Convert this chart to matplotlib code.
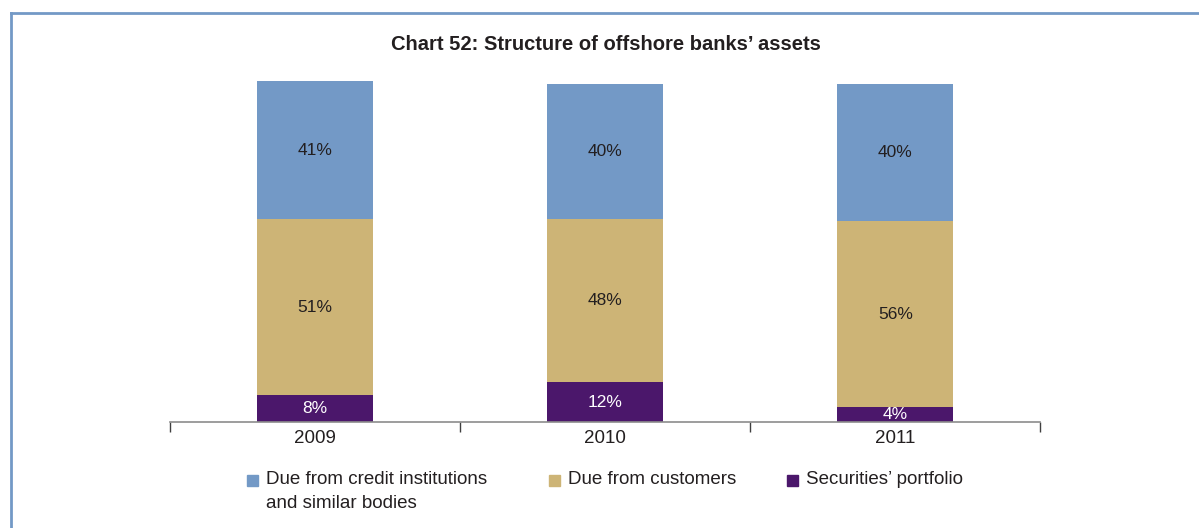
import matplotlib
matplotlib.use("Agg")
import matplotlib.pyplot as plt
from matplotlib.lines import Line2D
from matplotlib.patches import Rectangle
import numpy as np

# ── data ────────────────────────────────────────────────────────────────────
years = ["2009", "2010", "2011"]
series_names = [
    "Due from credit institutions\nand similar bodies",
    "Due from customers",
    "Securities\u2019 portfolio",
]
securities = [7.8, 11.6, 4.3]
customers = [51.7, 48.0, 54.6]
credit_inst = [40.5, 39.7, 40.3]
securities_lbl = ["8%", "12%", "4%"]
customers_lbl = ["51%", "48%", "56%"]
credit_lbl = ["41%", "40%", "40%"]

BLUE = "#7399c6"
TAN = "#cdb476"
PURPLE = "#4b176b"
TEXT = "#231f20"

plt.rcParams["font.family"] = ["Liberation Sans", "DejaVu Sans"]

fig = plt.figure(figsize=(11.99, 5.28), dpi=100)
ax = fig.add_axes([0.1414, 0.2008, 0.7264, 0.6452])

x = np.arange(len(years))
w = 0.4
b1 = ax.bar(x, securities, w, color=PURPLE)
b2 = ax.bar(x, customers, w, bottom=securities, color=TAN)
bottom3 = np.array(securities) + np.array(customers)
b3 = ax.bar(x, credit_inst, w, bottom=bottom3, color=BLUE)

for bars, lbls, col in [(b1, securities_lbl, "white"),
                        (b2, customers_lbl, TEXT),
                        (b3, credit_lbl, TEXT)]:
    for bar, lbl in zip(bars, lbls):
        ax.text(bar.get_x() + bar.get_width() / 2,
                bar.get_y() + bar.get_height() / 2, lbl,
                ha="center", va="center", fontsize=12.5, color=col)

ax.set_xlim(-0.5, 2.5)
ax.set_ylim(0, 100)
ax.set_yticks([])
for s in ["top", "right", "left"]:
    ax.spines[s].set_visible(False)
ax.spines["bottom"].set_color("#8c8c8c")
ax.spines["bottom"].set_linewidth(1.2)
ax.set_xticks([-0.5, 0.5, 1.5, 2.5])
ax.set_xticklabels([])
ax.set_xticks(x, minor=True)
ax.set_xticklabels(years, minor=True, fontsize=13.5, color=TEXT)
ax.tick_params(axis="x", which="major", length=7, width=1, color="#404040")
ax.tick_params(axis="x", which="minor", length=0, pad=6)

fig.text(0.505, 0.915, "Chart 52: Structure of offshore banks\u2019 assets",
         ha="center", va="center", fontsize=14.5, fontweight="bold",
         color=TEXT)

# legend, drawn by hand so the squares line up with the first text line
leg_colors = [BLUE, TAN, PURPLE]
leg_x = [247, 549, 787]
W, H = 1199, 528
for name, col, lx in zip(series_names, leg_colors, leg_x):
    fig.add_artist(Rectangle((lx / W, 1 - 486 / H), 11 / W, 11 / H,
                             color=col, transform=fig.transFigure))
    fig.text((lx + 19) / W, 1 - 471 / H, name, ha="left", va="top",
             fontsize=13.5, color=TEXT, linespacing=1.55)

# frame lines (top and left)
fig.add_artist(Line2D([0.0088, 1.0], [0.9745, 0.9745], color=BLUE, lw=2,
                      transform=fig.transFigure))
fig.add_artist(Line2D([0.0088, 0.0088], [0.0, 0.9745], color=BLUE, lw=2,
                      transform=fig.transFigure))

fig.savefig("out.png", dpi=100)
